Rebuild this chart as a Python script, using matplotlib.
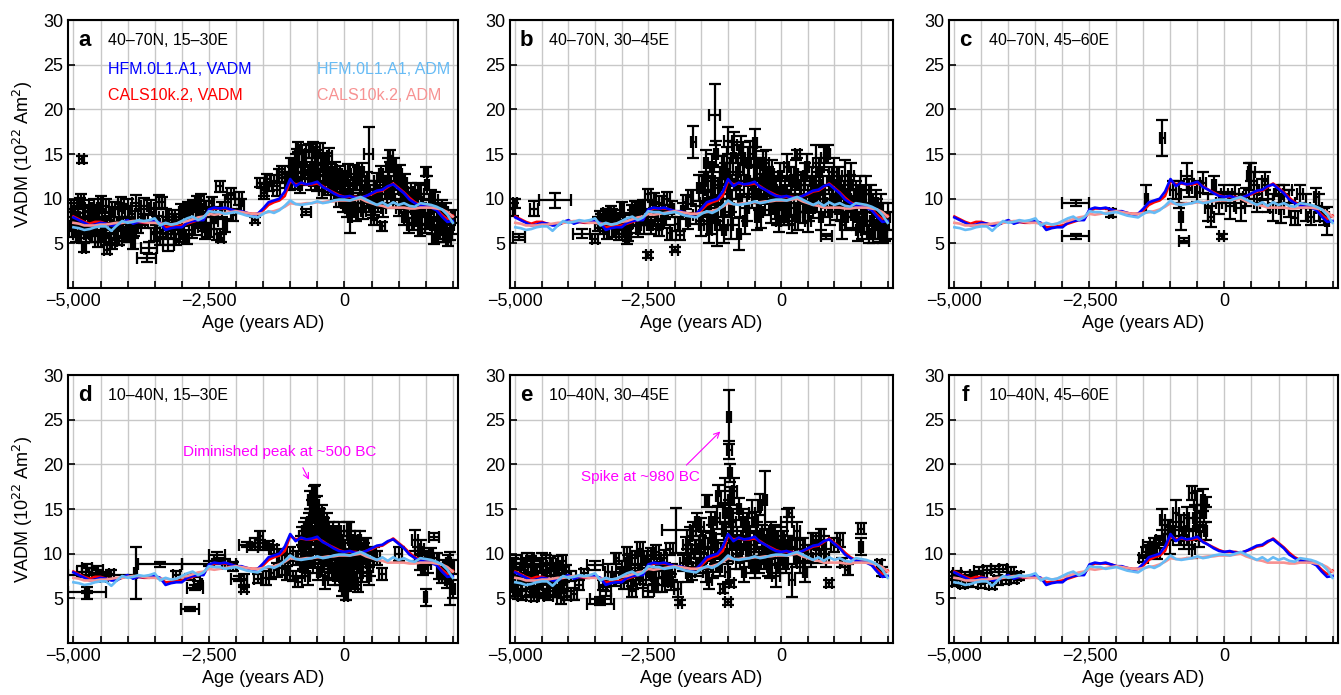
import matplotlib
matplotlib.use("Agg")
import matplotlib.pyplot as plt
import numpy as np

plt.rcParams['font.family'] = ['Liberation Sans', 'DejaVu Sans']

# model curves, every 100 years from -5000 to 2000 AD
years = list(range(-5000, 2001, 100))
hfm_vadm = [7.9, 7.6, 7.3, 7.0, 7.1, 7.3, 7.2, 7.0, 7.0, 7.4, 7.6, 7.2, 7.4, 7.4, 7.4, 7.5,
            7.3, 6.5, 6.7, 6.8, 6.8, 7.3, 7.5, 7.6, 7.6, 8.8, 9.0, 8.9, 9.0, 8.8, 8.6, 8.6,
            8.4, 8.2, 8.3, 8.9, 9.6, 9.8, 10.0, 10.8, 12.2, 11.4, 11.8, 11.6, 11.7, 11.9,
            11.3, 11.0, 10.6, 10.3, 10.2, 10.3, 10.1, 10.1, 10.3, 10.6, 10.9, 11.0, 11.4,
            11.6, 11.1, 10.6, 9.9, 9.5, 9.2, 9.1, 9.0, 8.7, 8.0, 7.4, 7.5]
cals_vadm = [8.0, 7.7, 7.4, 7.2, 7.4, 7.4, 7.2, 7.1, 7.1, 7.3, 7.5, 7.3, 7.4, 7.3, 7.3, 7.4,
             7.2, 6.8, 6.8, 6.9, 7.0, 7.2, 7.4, 7.6, 7.7, 8.6, 8.9, 8.9, 8.9, 8.8, 8.6, 8.5,
             8.4, 8.3, 8.3, 8.7, 9.3, 9.6, 9.8, 10.3, 12.0, 11.6, 11.7, 11.6, 11.6, 11.7,
             11.4, 11.0, 10.7, 10.4, 10.2, 10.2, 10.2, 10.1, 10.3, 10.5, 10.8, 10.9, 11.3,
             11.7, 11.2, 10.7, 10.1, 9.6, 9.3, 9.2, 9.1, 8.8, 8.2, 7.7, 8.1]
hfm_adm = [6.8, 6.7, 6.5, 6.6, 6.8, 6.9, 6.9, 6.4, 7.0, 7.5, 7.3, 7.4, 7.6, 7.5, 7.6, 7.8,
           7.0, 7.3, 7.1, 7.2, 7.5, 7.8, 8.0, 7.6, 7.9, 8.6, 8.5, 8.5, 8.3, 8.4, 8.5, 8.3,
           8.1, 8.0, 7.9, 8.3, 8.6, 8.4, 8.7, 9.2, 9.8, 9.4, 9.3, 9.4, 9.5, 9.7, 9.5, 9.6,
           9.8, 9.9, 9.9, 9.8, 10.0, 10.2, 9.9, 9.6, 9.3, 9.6, 9.2, 9.6, 9.3, 9.5, 9.2,
           9.1, 9.5, 9.4, 9.3, 9.1, 8.8, 8.2, 7.3]
cals_adm = [7.3, 7.2, 7.0, 7.0, 7.0, 7.1, 7.1, 7.2, 7.3, 7.3, 7.4, 7.5, 7.5, 7.4, 7.3, 7.3,
            7.2, 7.2, 7.1, 7.2, 7.4, 7.5, 7.7, 7.9, 8.0, 8.3, 8.2, 8.3, 8.4, 8.5, 8.6, 8.5,
            8.4, 8.3, 8.3, 8.4, 8.5, 8.6, 8.8, 9.1, 9.5, 9.4, 9.4, 9.5, 9.5, 9.6, 9.6, 9.7,
            9.7, 9.8, 9.8, 9.8, 9.9, 10.0, 9.7, 9.5, 9.3, 9.2, 9.0, 9.0, 9.0, 9.0, 8.9,
            8.9, 9.0, 9.0, 9.0, 8.9, 8.8, 8.5, 8.0]

# archaeomagnetic data: (age, VADM, age error, VADM error)
a_points = [(-5050, 8.5, 50, 1.0), (-5000, 7.2, 40, 0.8), (-4980, 9.2, 60, 0.7), (-4950, 6.0, 50, 0.8),
            (-4920, 8.0, 40, 1.2), (-4900, 5.6, 40, 0.5), (-4880, 9.5, 50, 0.6), (-4850, 14.4, 40, 0.4),
            (-4830, 7.0, 50, 0.9), (-4800, 4.5, 40, 0.5), (-4780, 8.5, 50, 0.8), (-4750, 6.3, 60, 0.7),
            (-4700, 7.8, 40, 0.8), (-4650, 5.8, 50, 0.6), (-4620, 9.0, 60, 1.0), (-4600, 6.8, 40, 0.7),
            (-4550, 5.2, 50, 0.6), (-4520, 8.0, 40, 0.9), (-4500, 9.5, 50, 0.8), (-4450, 6.5, 50, 0.7),
            (-4420, 7.5, 40, 1.0), (-4380, 4.3, 60, 0.5), (-4350, 5.6, 40, 0.6), (-4300, 8.2, 50, 0.9),
            (-4250, 6.2, 50, 0.8), (-4200, 7.3, 50, 0.7), (-4150, 5.3, 40, 0.5), (-4100, 8.6, 50, 0.8),
            (-4050, 6.0, 40, 0.7), (-4000, 9.0, 60, 1.0), (-3950, 7.2, 50, 0.8), (-3900, 5.0, 40, 0.6),
            (-3850, 9.5, 60, 0.9), (-3800, 6.8, 50, 0.6), (-3750, 8.0, 50, 0.9), (-3650, 3.4, 180, 0.5),
            (-3600, 4.5, 150, 0.7), (-3560, 9.0, 40, 0.8), (-3520, 6.0, 50, 0.7), (-3450, 7.2, 40, 0.9),
            (-3400, 5.5, 50, 0.7), (-3370, 9.6, 60, 0.6), (-3300, 8.0, 40, 0.8), (-3250, 4.8, 100, 0.7),
            (-3200, 6.4, 50, 0.8), (-3150, 7.6, 40, 0.7), (-3100, 5.4, 50, 0.6), (-3050, 7.0, 50, 0.9),
            (-3000, 6.2, 40, 0.7), (-2950, 8.4, 50, 0.8), (-2900, 5.5, 40, 0.6), (-2850, 7.8, 50, 0.8),
            (-2800, 9.2, 40, 0.7), (-2750, 6.8, 50, 0.9), (-2700, 8.5, 40, 0.8), (-2650, 9.8, 60, 0.7),
            (-2600, 7.2, 50, 0.8), (-2550, 8.8, 50, 0.9), (-2500, 6.5, 40, 0.8), (-2450, 9.5, 50, 0.7),
            (-2400, 7.5, 60, 0.9), (-2350, 6.0, 50, 0.6), (-2300, 11.4, 60, 0.6), (-2280, 5.6, 60, 0.5),
            (-2250, 8.8, 50, 0.8), (-2200, 7.0, 40, 0.7), (-2150, 9.6, 50, 0.8), (-2100, 10.6, 60, 0.6),
            (-2050, 8.2, 50, 0.7), (-1950, 10.0, 60, 0.7), (-1900, 9.2, 50, 0.8), (-1650, 7.6, 60, 0.3),
            (-1550, 11.8, 60, 0.5), (-1480, 10.6, 50, 0.6), (-1400, 11.4, 60, 0.5), (-1300, 12.0, 50, 0.6),
            (-1200, 12.6, 50, 0.7), (-1100, 12.4, 60, 0.6), (-1000, 11.6, 40, 0.6), (-950, 12.8, 50, 0.8),
            (-900, 14.0, 40, 1.0), (-850, 15.8, 50, 0.6), (-800, 13.0, 50, 0.8), (-750, 14.5, 40, 0.9),
            (-700, 8.5, 90, 0.3), (-680, 12.2, 50, 0.7), (-650, 15.3, 60, 0.8), (-600, 13.6, 40, 1.0),
            (-550, 14.8, 50, 1.0), (-500, 11.8, 40, 0.9), (-450, 15.5, 60, 0.7), (-400, 12.5, 50, 0.8),
            (-350, 14.2, 40, 0.9), (-300, 11.2, 50, 0.8), (-250, 13.0, 40, 1.0), (-200, 10.5, 50, 0.8),
            (-150, 12.0, 40, 0.9), (-100, 9.8, 50, 0.7), (-50, 11.0, 40, 0.9), (0, 12.3, 50, 0.8),
            (50, 9.0, 40, 1.0), (80, 10.5, 40, 0.9), (100, 8.0, 40, 1.8), (150, 11.5, 50, 0.9),
            (200, 9.5, 50, 0.8), (250, 12.5, 40, 1.0), (300, 10.0, 40, 1.0), (350, 8.6, 50, 0.9),
            (400, 11.0, 40, 1.0), (450, 15.0, 80, 3.0), (500, 9.2, 40, 1.0), (550, 7.6, 60, 0.6),
            (600, 12.0, 50, 0.9), (650, 10.2, 40, 1.0), (700, 6.9, 50, 0.5), (750, 11.5, 40, 1.0),
            (800, 13.5, 40, 1.0), (850, 14.8, 50, 0.7), (900, 10.0, 40, 1.0), (950, 12.5, 40, 1.0),
            (1000, 9.0, 50, 0.9), (1050, 11.0, 40, 1.0), (1100, 8.0, 40, 0.9), (1150, 10.2, 50, 1.0),
            (1200, 7.0, 40, 0.8), (1250, 9.5, 40, 1.0), (1300, 8.2, 40, 0.9), (1350, 11.0, 50, 0.8),
            (1400, 6.5, 40, 0.7), (1450, 9.0, 40, 1.0), (1500, 13.0, 40, 0.5), (1550, 7.5, 40, 0.9),
            (1600, 10.0, 40, 1.0), (1650, 5.5, 40, 0.6), (1700, 8.5, 40, 1.0), (1750, 6.8, 40, 0.8),
            (1800, 9.0, 40, 0.9), (1850, 5.8, 40, 0.7), (1900, 7.5, 40, 0.9), (1950, 6.2, 40, 0.8),
            (2000, 8.0, 40, 0.7)]
a_more = [(-5030, 6.5, 60, 0.8), (-4970, 8.0, 50, 0.9), (-4900, 7.4, 60, 1.0), (-4860, 9.8, 50, 0.7),
          (-4760, 6.0, 50, 0.8), (-4720, 9.0, 60, 0.9), (-4680, 7.0, 50, 1.0), (-4580, 8.5, 50, 0.8),
          (-4480, 5.8, 50, 0.7), (-4400, 9.2, 60, 0.8), (-4330, 7.0, 50, 0.9), (-4280, 5.0, 40, 0.6),
          (-4230, 8.8, 50, 0.8), (-4180, 6.5, 50, 0.9), (-4120, 9.5, 60, 0.7), (-4080, 7.2, 50, 0.8),
          (-3980, 6.0, 50, 0.8), (-3920, 8.3, 60, 0.9), (-3880, 6.5, 40, 0.7), (-3700, 9.2, 60, 0.9),
          (-3680, 7.5, 50, 0.8), (-3480, 8.0, 50, 0.9), (-3420, 9.6, 60, 0.8), (-3350, 6.5, 50, 0.8),
          (-3280, 7.0, 40, 0.9), (-3180, 8.0, 50, 0.7), (-3120, 6.8, 50, 0.8), (-3020, 8.5, 40, 0.9),
          (-2980, 5.8, 50, 0.7), (-2880, 8.8, 50, 0.8), (-2820, 6.5, 50, 0.9), (-2720, 9.5, 40, 0.8),
          (-2680, 7.6, 50, 0.9), (-2620, 8.0, 40, 0.8), (-2580, 6.3, 50, 0.8), (-2420, 8.2, 50, 0.9),
          (-1480, 11.0, 50, 0.7), (-1420, 12.2, 40, 0.6), (-1250, 11.0, 60, 0.7), (-1150, 13.0, 50, 0.7),
          (-1050, 12.0, 40, 0.8), (-980, 13.8, 50, 0.8), (-920, 12.0, 50, 0.9), (-870, 14.8, 40, 0.8),
          (-820, 11.5, 40, 0.9), (-780, 15.0, 60, 1.0), (-720, 13.2, 50, 0.9), (-620, 12.0, 40, 1.0),
          (-580, 15.8, 50, 0.6), (-520, 13.0, 40, 1.0), (-480, 14.0, 50, 1.0), (-420, 11.0, 40, 0.9),
          (-380, 13.5, 50, 1.0), (-330, 12.5, 40, 1.0), (-280, 14.8, 50, 0.9), (-230, 11.8, 40, 1.0),
          (-180, 13.2, 40, 0.9), (-130, 10.8, 40, 1.0), (-80, 12.8, 40, 0.9), (-30, 9.5, 40, 1.0),
          (20, 11.0, 40, 1.0), (60, 13.0, 40, 0.9), (120, 10.0, 40, 1.0), (170, 12.8, 40, 1.0),
          (220, 8.5, 40, 1.0), (280, 11.5, 40, 0.9), (320, 13.0, 40, 1.0), (370, 9.5, 40, 1.0),
          (420, 12.0, 40, 1.0), (480, 10.5, 40, 1.0), (530, 8.8, 40, 1.0), (580, 11.0, 40, 1.0),
          (620, 9.5, 40, 1.0), (680, 12.8, 40, 0.9), (720, 9.0, 40, 1.0), (780, 10.5, 40, 1.0),
          (820, 12.0, 40, 1.0), (880, 11.0, 40, 1.0), (920, 13.8, 40, 0.8), (980, 11.5, 40, 1.0),
          (1020, 12.8, 40, 1.0), (1080, 9.8, 40, 1.0), (1120, 11.8, 40, 1.0), (1180, 8.8, 40, 1.0),
          (1220, 10.8, 40, 1.0), (1280, 7.5, 40, 1.0), (1320, 9.8, 40, 1.0), (1380, 8.0, 40, 1.0),
          (1420, 10.5, 40, 1.0), (1480, 7.2, 40, 1.0), (1520, 11.5, 40, 1.0), (1580, 8.8, 40, 1.0),
          (1620, 7.0, 40, 1.0), (1680, 9.8, 40, 1.0), (1720, 6.0, 40, 0.8), (1780, 8.0, 40, 1.0),
          (1820, 6.5, 40, 1.0), (1880, 8.5, 40, 1.0), (1920, 5.5, 40, 0.8), (1980, 7.0, 40, 1.0)]

b_points = [(-5050, 8.8, 50, 0.7), (-5000, 9.5, 40, 0.5), (-4930, 5.7, 120, 0.3), (-4650, 8.9, 80, 0.8),
            (-4250, 9.8, 300, 0.8), (-3750, 6.1, 160, 0.5), (-3500, 5.5, 60, 0.5), (-3450, 7.2, 50, 0.8),
            (-3400, 8.0, 40, 0.6), (-3350, 6.8, 50, 0.7), (-3300, 8.4, 60, 0.5), (-3250, 7.5, 50, 0.7),
            (-3200, 8.6, 50, 0.6), (-3150, 6.5, 40, 0.8), (-3100, 7.8, 50, 0.9), (-3050, 6.0, 50, 0.6),
            (-3000, 8.9, 40, 0.7), (-2950, 6.5, 50, 0.8), (-2900, 5.5, 40, 0.6), (-2850, 7.2, 50, 1.0),
            (-2800, 8.5, 40, 0.8), (-2750, 9.0, 50, 0.7), (-2700, 6.6, 40, 0.9), (-2650, 7.8, 50, 0.8),
            (-2600, 9.2, 40, 0.7), (-2550, 8.0, 50, 0.9), (-2500, 10.5, 60, 0.6), (-2500, 3.7, 50, 0.3),
            (-2450, 7.0, 40, 0.9), (-2400, 9.8, 50, 0.8), (-2350, 8.5, 40, 0.9), (-2300, 6.5, 50, 0.7),
            (-2250, 9.5, 50, 0.8), (-2200, 7.6, 40, 0.9), (-2150, 10.0, 50, 0.7), (-2100, 6.2, 50, 0.8),
            (-2050, 8.8, 40, 0.9), (-2000, 4.3, 60, 0.3), (-1950, 7.2, 50, 0.8), (-1900, 5.9, 80, 0.5),
            (-1850, 8.6, 40, 0.9), (-1800, 9.6, 50, 0.8), (-1750, 7.5, 40, 0.9), (-1700, 10.2, 50, 0.8),
            (-1650, 16.3, 40, 1.8), (-1600, 8.2, 50, 1.0), (-1550, 11.2, 40, 1.5), (-1500, 7.0, 50, 1.2),
            (-1450, 12.0, 40, 1.0), (-1400, 9.0, 40, 1.8), (-1350, 6.5, 50, 1.5), (-1300, 13.5, 40, 1.5),
            (-1250, 19.4, 100, 3.4), (-1250, 9.8, 40, 2.5), (-1200, 7.0, 50, 2.3), (-1150, 11.5, 40, 1.5),
            (-1100, 8.5, 40, 2.0), (-1050, 12.8, 50, 1.2), (-1000, 16.5, 80, 1.5), (-980, 10.2, 40, 2.0),
            (-950, 7.0, 50, 1.5), (-900, 14.5, 40, 1.8), (-850, 11.5, 40, 1.5), (-800, 6.0, 40, 1.8),
            (-750, 15.5, 40, 1.5), (-700, 12.0, 50, 1.8), (-650, 9.0, 40, 1.5), (-600, 14.0, 40, 1.8),
            (-550, 10.5, 50, 1.5), (-500, 16.2, 40, 1.6), (-450, 8.0, 40, 1.5), (-400, 12.8, 50, 1.8),
            (-350, 13.8, 40, 1.5), (-300, 10.0, 40, 1.8), (-250, 12.0, 50, 1.5), (-200, 8.8, 40, 1.5),
            (-150, 11.5, 50, 1.5), (-100, 9.5, 40, 1.8), (-50, 7.5, 50, 1.2), (0, 10.8, 50, 1.5),
            (50, 8.0, 40, 1.0), (100, 13.5, 50, 1.5), (150, 9.5, 40, 1.5), (200, 7.2, 50, 1.0),
            (250, 11.5, 40, 1.2), (300, 15.0, 50, 0.5), (350, 10.0, 40, 1.5), (400, 8.5, 50, 1.2),
            (450, 12.5, 40, 1.5), (500, 7.5, 50, 1.2), (550, 10.8, 40, 1.5), (600, 9.0, 40, 1.2),
            (650, 14.0, 50, 2.0), (700, 11.5, 40, 1.5), (750, 8.0, 40, 1.5), (800, 14.5, 50, 1.3),
            (850, 5.8, 100, 0.3), (900, 12.0, 40, 1.5), (950, 10.0, 40, 1.5), (1000, 13.0, 40, 1.5),
            (1050, 8.8, 40, 1.2), (1100, 11.0, 50, 1.5), (1150, 7.0, 40, 1.5), (1200, 12.5, 60, 1.8),
            (1250, 9.5, 40, 1.5), (1300, 11.5, 40, 1.2), (1350, 8.2, 40, 1.5), (1400, 10.5, 40, 1.5),
            (1450, 6.5, 40, 1.2), (1500, 9.8, 40, 1.5), (1550, 7.8, 40, 1.5), (1600, 11.0, 40, 1.5),
            (1650, 6.0, 40, 1.0), (1700, 9.0, 40, 1.5), (1750, 7.0, 40, 1.5), (1800, 8.5, 40, 1.5),
            (1850, 6.2, 40, 1.0), (1900, 8.0, 40, 1.5), (1950, 6.8, 40, 1.5), (2000, 8.0, 40, 1.5)]
b_more = [(-3380, 7.5, 50, 0.8), (-3280, 6.2, 50, 0.7), (-3180, 8.0, 50, 0.8), (-3080, 7.0, 50, 0.9),
          (-2980, 7.6, 50, 0.8), (-2880, 6.0, 50, 0.7), (-2780, 7.8, 50, 0.9), (-2680, 8.8, 50, 0.8),
          (-2580, 7.0, 50, 0.9), (-2420, 8.8, 50, 0.8), (-2320, 7.5, 50, 0.9), (-2180, 8.5, 50, 0.8),
          (-1480, 9.5, 50, 2.0), (-1420, 14.0, 40, 1.5), (-1380, 11.0, 50, 2.0), (-1320, 8.0, 40, 2.0),
          (-1280, 12.0, 40, 1.8), (-1220, 15.0, 40, 1.5), (-1180, 9.5, 50, 2.0), (-1120, 13.0, 40, 1.8),
          (-1080, 6.5, 40, 1.5), (-1020, 14.0, 50, 1.8), (-960, 12.0, 40, 2.0), (-920, 9.0, 40, 2.0),
          (-880, 16.0, 50, 1.5), (-820, 13.0, 40, 2.0), (-780, 10.0, 40, 2.0), (-720, 14.5, 40, 1.8),
          (-680, 7.5, 40, 1.5), (-620, 12.0, 40, 1.8), (-580, 15.0, 40, 1.5), (-520, 11.5, 40, 2.0),
          (-480, 14.0, 40, 1.8), (-420, 10.5, 40, 1.8), (-380, 8.5, 40, 1.8), (-320, 12.0, 40, 2.0),
          (-280, 14.0, 40, 1.5), (-220, 10.5, 40, 1.8), (-180, 12.8, 40, 1.5), (-120, 11.0, 40, 1.5),
          (-80, 8.5, 40, 1.5), (-20, 12.5, 40, 1.5), (20, 9.5, 40, 1.5), (70, 11.0, 40, 1.5),
          (120, 8.5, 40, 1.5), (180, 12.0, 40, 1.5), (230, 9.0, 40, 1.5), (280, 12.8, 40, 1.5),
          (320, 8.0, 40, 1.5), (380, 11.5, 40, 1.5), (420, 10.0, 40, 1.5), (480, 13.5, 40, 1.5),
          (520, 9.0, 40, 1.5), (580, 12.0, 40, 1.5), (620, 11.0, 40, 1.5), (680, 10.0, 40, 1.5),
          (720, 13.0, 40, 1.5), (780, 11.0, 40, 1.5), (820, 9.5, 40, 1.5), (880, 15.0, 40, 1.0),
          (920, 8.5, 40, 1.5), (980, 11.5, 40, 1.5), (1020, 10.0, 40, 1.5), (1080, 12.0, 40, 1.5),
          (1120, 9.0, 40, 1.5), (1180, 10.5, 40, 1.5), (1220, 8.0, 40, 1.5), (1280, 10.0, 40, 1.5),
          (1320, 12.5, 40, 1.5), (1380, 9.5, 40, 1.5), (1420, 8.0, 40, 1.5), (1480, 11.0, 40, 1.5),
          (1520, 7.0, 40, 1.5), (1580, 9.0, 40, 1.5), (1620, 7.5, 40, 1.5), (1680, 10.0, 40, 1.5),
          (1720, 6.0, 40, 1.0), (1780, 9.5, 40, 1.5), (1820, 7.0, 40, 1.5), (1880, 9.0, 40, 1.5),
          (1920, 6.0, 40, 1.0), (1980, 7.0, 40, 1.5)]

c_points = [(-2750, 9.5, 250, 0.3), (-2750, 5.8, 250, 0.3), (-2100, 8.4, 40, 0.5), (-1450, 10.0, 30, 1.5),
            (-1150, 16.8, 40, 2.0), (-950, 11.0, 60, 1.0), (-850, 10.5, 40, 1.5), (-800, 8.0, 40, 1.5),
            (-750, 5.3, 100, 0.3), (-700, 12.5, 100, 1.5), (-650, 11.2, 50, 1.0), (-500, 10.8, 50, 1.2),
            (-400, 11.8, 60, 1.2), (-300, 9.0, 60, 1.5), (-250, 8.0, 60, 1.2), (-200, 11.5, 40, 1.0),
            (-100, 9.5, 50, 1.2), (-50, 5.8, 50, 0.3), (0, 10.5, 60, 1.0), (100, 9.2, 80, 1.5),
            (200, 10.5, 60, 1.0), (300, 9.0, 80, 1.5), (400, 10.2, 60, 1.0), (450, 12.5, 40, 1.5),
            (500, 13.0, 60, 1.0), (550, 11.5, 60, 1.5), (600, 9.5, 60, 1.0), (700, 11.0, 60, 1.2),
            (750, 12.0, 50, 1.0), (800, 10.0, 100, 1.5), (900, 9.0, 60, 1.5), (1000, 10.5, 80, 1.0),
            (1050, 8.8, 50, 1.5), (1100, 11.0, 150, 0.5), (1200, 9.5, 100, 1.5), (1300, 7.8, 60, 0.8),
            (1400, 10.5, 60, 1.0), (1500, 9.0, 80, 1.5), (1600, 8.0, 60, 1.0), (1700, 10.2, 50, 1.0),
            (1750, 9.0, 50, 1.5), (1850, 8.0, 80, 1.0), (1900, 7.5, 40, 1.6)]

d_points = [(-4750, 5.7, 350, 0.1), (-4750, 5.6, 30, 0.7), (-4470, 7.6, 630, 0.1), (-4850, 8.0, 80, 0.6),
            (-4750, 8.4, 100, 0.5), (-4650, 7.8, 60, 0.6), (-4550, 8.2, 100, 0.4), (-4450, 7.4, 60, 0.5),
            (-4300, 7.7, 50, 0.5), (-3850, 7.8, 30, 2.9), (-3400, 8.8, 400, 0.3), (-3100, 7.6, 60, 0.5),
            (-2500, 8.9, 500, 0.3), (-2850, 7.4, 180, 0.3), (-2750, 6.2, 150, 0.3), (-2850, 3.8, 170, 0.2),
            (-2700, 6.6, 80, 0.3), (-2350, 9.8, 150, 0.4), (-2300, 9.2, 100, 0.3), (-2200, 8.9, 60, 0.5),
            (-2050, 8.6, 60, 0.5), (-1950, 7.2, 150, 0.3), (-1850, 7.0, 60, 0.7), (-1850, 6.1, 60, 0.4),
            (-1800, 11.0, 150, 0.3), (-1650, 11.2, 100, 0.5), (-1550, 12.0, 50, 0.5), (-1500, 10.8, 100, 0.4),
            (-1400, 11.0, 80, 0.4), (-1450, 7.3, 60, 0.8), (-1350, 7.8, 50, 0.6), (-1300, 10.5, 60, 0.5),
            (-1200, 9.2, 50, 0.8), (-1100, 8.3, 60, 0.7), (-1000, 10.0, 50, 0.8), (-950, 7.5, 60, 0.6),
            (-900, 9.5, 50, 0.8), (-850, 6.8, 60, 0.5), (-800, 11.0, 40, 1.0), (-780, 8.5, 40, 1.0),
            (-750, 12.5, 40, 1.0), (-700, 10.0, 40, 1.2), (-680, 7.5, 40, 1.0), (-650, 13.5, 40, 1.0),
            (-620, 11.5, 30, 1.0), (-600, 15.0, 30, 1.0), (-580, 9.0, 40, 1.2), (-560, 16.8, 40, 0.8),
            (-550, 12.5, 30, 1.0), (-530, 14.0, 30, 1.0), (-510, 10.5, 30, 1.2), (-500, 15.5, 40, 1.0),
            (-480, 8.0, 30, 1.0), (-460, 13.0, 30, 1.2), (-440, 11.0, 30, 1.2), (-420, 14.5, 40, 1.0),
            (-400, 9.5, 30, 1.2), (-380, 12.0, 30, 1.2), (-350, 7.0, 40, 1.0), (-330, 13.5, 30, 1.0),
            (-300, 10.5, 40, 1.2), (-280, 8.5, 30, 1.2), (-250, 12.0, 40, 1.0), (-220, 9.0, 40, 1.2),
            (-200, 11.0, 40, 1.2), (-170, 7.5, 40, 1.0), (-150, 10.0, 40, 1.2), (-120, 8.5, 40, 1.2),
            (-100, 12.5, 40, 1.0), (-80, 9.5, 40, 1.2), (-50, 6.5, 40, 1.2), (-20, 11.0, 40, 1.0),
            (0, 8.0, 40, 1.2), (30, 5.3, 40, 0.5), (50, 12.5, 50, 1.0), (80, 9.0, 40, 1.2),
            (100, 11.5, 40, 1.0), (130, 7.5, 40, 1.2), (150, 10.0, 40, 1.2), (200, 11.5, 50, 1.0),
            (230, 8.5, 50, 1.2), (250, 6.5, 60, 0.8), (300, 10.5, 40, 1.0), (350, 9.0, 40, 1.2),
            (400, 11.0, 40, 0.8), (450, 7.5, 40, 1.0), (600, 9.5, 60, 0.8), (700, 7.7, 60, 0.7),
            (1000, 10.0, 60, 0.8), (1300, 11.5, 50, 1.2), (1350, 10.0, 40, 0.8), (1400, 9.0, 50, 0.8),
            (1450, 8.3, 40, 0.7), (1500, 5.1, 30, 1.0), (1650, 11.9, 90, 0.4), (1600, 9.8, 40, 0.8),
            (1700, 9.5, 50, 0.6), (1750, 8.0, 40, 0.8), (1800, 7.5, 50, 0.8), (1850, 8.5, 40, 0.8),
            (1900, 7.0, 40, 0.8), (1950, 7.2, 40, 3.0), (2000, 6.0, 40, 1.0), (1980, 8.5, 40, 0.8)]
d_more = [(-790, 12.0, 40, 1.0), (-770, 9.5, 30, 1.2), (-730, 11.5, 30, 1.0), (-710, 13.0, 30, 1.0),
          (-690, 9.0, 30, 1.2), (-660, 12.0, 30, 1.0), (-640, 16.0, 30, 1.0), (-630, 10.0, 30, 1.2),
          (-610, 14.0, 30, 1.0), (-590, 12.5, 30, 1.0), (-570, 15.5, 30, 1.0), (-540, 17.0, 30, 0.7),
          (-520, 11.5, 30, 1.2), (-490, 13.5, 30, 1.0), (-470, 10.0, 30, 1.2), (-450, 14.0, 30, 1.0),
          (-430, 12.5, 30, 1.0), (-410, 8.5, 30, 1.0), (-390, 11.0, 30, 1.2), (-370, 13.0, 30, 1.0),
          (-340, 9.8, 30, 1.2), (-320, 11.5, 30, 1.0), (-290, 12.5, 30, 1.0), (-270, 9.5, 30, 1.2),
          (-240, 10.5, 30, 1.2), (-210, 12.5, 30, 1.0), (-190, 8.0, 30, 1.0), (-160, 11.5, 30, 1.2),
          (-130, 9.0, 30, 1.2), (-110, 10.5, 30, 1.2), (-90, 7.5, 30, 1.0), (-60, 11.5, 30, 1.0),
          (-40, 9.0, 30, 1.2), (-10, 7.0, 30, 1.2), (10, 10.0, 30, 1.2), (40, 9.0, 30, 1.2),
          (60, 7.0, 30, 1.0), (90, 12.8, 30, 0.8), (110, 8.5, 30, 1.2), (140, 11.0, 30, 1.0),
          (170, 9.5, 30, 1.2), (190, 7.0, 30, 1.0), (220, 10.5, 30, 1.2), (260, 9.0, 30, 1.2),
          (280, 11.5, 30, 1.0), (320, 8.0, 30, 1.2), (370, 10.0, 30, 1.2), (420, 9.0, 30, 1.0),
          (480, 8.5, 40, 1.0), (550, 10.0, 40, 0.8), (1420, 10.5, 40, 1.0), (1480, 9.5, 40, 0.8),
          (1550, 8.8, 40, 1.0), (1880, 8.0, 40, 0.8), (1920, 9.0, 40, 0.8), (-1700, 10.8, 100, 0.4),
          (-1600, 7.2, 60, 0.5), (-1250, 8.2, 50, 0.8), (-1150, 9.8, 50, 0.7), (-1050, 7.8, 50, 0.8)]

e_points = [(-5050, 8.5, 50, 1.0), (-5000, 6.5, 60, 0.8), (-4980, 9.0, 80, 0.8), (-4950, 5.5, 50, 0.6),
            (-4900, 7.5, 100, 1.0), (-4850, 8.8, 150, 0.6), (-4800, 6.0, 80, 0.8), (-4750, 7.0, 60, 1.0),
            (-4700, 9.2, 200, 0.5), (-4650, 5.2, 60, 0.5), (-4600, 8.0, 100, 0.8), (-4550, 6.5, 50, 0.9),
            (-4500, 9.5, 150, 0.6), (-4450, 5.5, 100, 0.5), (-4400, 7.8, 80, 0.9), (-4350, 8.8, 120, 0.7),
            (-4300, 6.2, 60, 0.8), (-4250, 7.0, 200, 0.6), (-4200, 9.0, 100, 0.7), (-4150, 5.0, 60, 0.6),
            (-4100, 6.8, 80, 0.8), (-4050, 8.0, 60, 0.7), (-3950, 7.5, 100, 0.6), (-3900, 5.5, 60, 0.7),
            (-3800, 6.5, 80, 0.6), (-3700, 7.8, 60, 0.5), (-3500, 8.7, 150, 0.5), (-3400, 4.4, 250, 0.2),
            (-3400, 4.9, 200, 0.2), (-3350, 6.5, 80, 0.6), (-3300, 5.8, 100, 0.5), (-3250, 8.0, 60, 0.8),
            (-3150, 7.2, 50, 0.8), (-3100, 9.5, 50, 0.6), (-3000, 8.5, 100, 0.7), (-2950, 6.8, 60, 0.8),
            (-2900, 10.0, 60, 0.8), (-2850, 7.8, 50, 0.9), (-2800, 5.8, 60, 0.6), (-2750, 9.5, 60, 0.8),
            (-2700, 8.0, 50, 0.9), (-2650, 10.5, 60, 0.8), (-2600, 7.0, 50, 0.8), (-2550, 8.8, 60, 0.9),
            (-2500, 5.8, 100, 0.7), (-2450, 9.8, 60, 0.8), (-2400, 7.5, 50, 0.9), (-2350, 10.2, 60, 0.8),
            (-2300, 8.2, 50, 0.9), (-2250, 6.5, 60, 0.8), (-2200, 9.5, 60, 0.9), (-2150, 7.2, 50, 0.8),
            (-2100, 10.5, 60, 0.7), (-2050, 8.0, 50, 0.9), (-1980, 12.6, 270, 2.5), (-1950, 6.0, 60, 0.8),
            (-1900, 4.5, 40, 0.3), (-1850, 9.0, 50, 0.9), (-1800, 11.0, 50, 0.9), (-1750, 7.8, 50, 1.0),
            (-1700, 10.0, 60, 1.0), (-1650, 12.5, 50, 1.0), (-1600, 8.5, 50, 1.0), (-1550, 11.0, 50, 1.0),
            (-1500, 13.0, 40, 1.0), (-1450, 9.5, 50, 1.2), (-1400, 15.9, 40, 0.7), (-1350, 7.0, 50, 1.0),
            (-1300, 12.0, 40, 1.2), (-1250, 10.0, 50, 1.2), (-1200, 14.0, 40, 1.2), (-1150, 8.5, 40, 1.0),
            (-1100, 6.1, 50, 0.5), (-1080, 12.5, 40, 1.0), (-1050, 17.0, 120, 1.5), (-1020, 10.0, 40, 1.2),
            (-1000, 4.6, 50, 0.3), (-990, 14.5, 40, 1.5), (-980, 25.3, 40, 3.0), (-975, 21.6, 40, 1.0),
            (-970, 19.0, 40, 1.0), (-960, 16.0, 40, 1.5), (-950, 12.0, 40, 1.5), (-940, 6.7, 50, 0.4),
            (-900, 13.5, 50, 1.5), (-850, 9.5, 50, 1.2), (-800, 15.0, 40, 1.2), (-750, 11.0, 50, 1.5),
            (-700, 8.0, 40, 1.2), (-650, 13.0, 50, 1.5), (-600, 10.0, 40, 1.5), (-550, 14.5, 50, 1.5),
            (-500, 8.5, 40, 1.2), (-450, 12.0, 50, 1.5), (-400, 15.5, 40, 1.2), (-350, 10.0, 60, 1.2),
            (-300, 16.0, 40, 3.2), (-250, 9.0, 50, 1.5), (-200, 12.5, 40, 1.0), (-150, 11.0, 50, 1.2),
            (-100, 7.5, 80, 1.2), (-50, 10.5, 40, 1.0), (0, 12.0, 60, 1.0), (50, 9.5, 40, 1.2),
            (100, 13.5, 100, 1.5), (150, 14.6, 50, 0.5), (200, 7.0, 60, 1.8), (250, 10.8, 50, 1.0),
            (300, 12.5, 60, 1.0), (350, 9.0, 50, 1.2), (400, 11.0, 40, 0.8), (500, 10.0, 50, 1.0),
            (600, 11.5, 50, 0.8), (700, 10.0, 40, 1.0), (750, 12.0, 50, 0.8), (900, 6.7, 60, 0.4),
            (1000, 11.0, 60, 0.8), (1100, 11.5, 60, 0.8), (1150, 9.0, 50, 0.5), (1250, 8.2, 50, 0.6),
            (1500, 12.8, 50, 0.6), (1500, 10.8, 40, 1.0), (1850, 8.8, 50, 0.5), (1900, 8.0, 50, 0.5)]
e_more = [(-5020, 7.5, 100, 0.8), (-4970, 6.0, 80, 0.7), (-4920, 8.2, 150, 0.8), (-4870, 5.3, 80, 0.5),
          (-4820, 7.8, 200, 0.8), (-4780, 9.5, 100, 0.6), (-4720, 6.2, 80, 0.8), (-4680, 8.5, 150, 0.9),
          (-4620, 5.8, 60, 0.6), (-4580, 7.2, 100, 0.9), (-4520, 8.6, 120, 0.8), (-4480, 6.0, 80, 0.7),
          (-4420, 9.0, 100, 0.8), (-4380, 5.3, 80, 0.5), (-4320, 7.5, 100, 0.9), (-4280, 8.2, 150, 0.7),
          (-4220, 5.8, 60, 0.7), (-4180, 7.8, 100, 0.8), (-4120, 9.2, 80, 0.7), (-4080, 6.0, 60, 0.8),
          (-4020, 5.3, 60, 0.5), (-2980, 7.5, 50, 0.8), (-2880, 9.0, 50, 0.9), (-2780, 6.8, 50, 0.8),
          (-2680, 7.5, 50, 0.9), (-2580, 9.5, 50, 0.8), (-2480, 8.0, 50, 0.9), (-2380, 6.5, 50, 0.8),
          (-2280, 9.0, 50, 0.9), (-2180, 8.2, 50, 0.8), (-2080, 6.8, 50, 0.9), (-1780, 9.5, 50, 1.0),
          (-1720, 12.0, 50, 1.0), (-1680, 8.0, 50, 1.0), (-1620, 10.5, 50, 1.0), (-1580, 13.5, 40, 1.0),
          (-1520, 9.0, 50, 1.2), (-1480, 11.5, 40, 1.0), (-1420, 8.0, 50, 1.2), (-1380, 10.5, 50, 1.2),
          (-1320, 13.5, 40, 1.2), (-1280, 8.5, 50, 1.2), (-1220, 11.0, 40, 1.2), (-1180, 16.5, 40, 1.2),
          (-1130, 10.0, 40, 1.2), (-1060, 14.5, 40, 1.2), (-1010, 8.0, 40, 1.2), (-930, 11.0, 40, 1.5),
          (-880, 17.0, 50, 1.5), (-830, 11.5, 40, 1.5), (-780, 9.5, 40, 1.2), (-720, 13.5, 40, 1.5),
          (-670, 10.5, 40, 1.2), (-620, 12.5, 40, 1.5), (-570, 9.0, 40, 1.2), (-520, 11.0, 40, 1.5),
          (-470, 13.5, 40, 1.2), (-420, 9.0, 40, 1.2), (-370, 12.0, 40, 1.2), (-320, 9.5, 40, 1.2),
          (-270, 11.5, 40, 1.2), (-220, 8.5, 40, 1.2), (-170, 10.0, 40, 1.2), (-120, 12.0, 40, 1.2),
          (-70, 9.0, 40, 1.2), (-20, 10.5, 40, 1.0), (30, 11.5, 40, 1.0), (80, 9.0, 40, 1.2),
          (130, 11.0, 40, 1.0), (280, 9.5, 40, 1.0), (450, 8.0, 40, 1.2), (550, 9.5, 40, 1.0),
          (650, 11.0, 40, 1.0), (800, 11.0, 40, 1.0), (850, 9.5, 40, 1.0)]

f_points = [(-5050, 7.5, 60, 0.4), (-5000, 6.8, 50, 0.4), (-4950, 7.8, 80, 0.3), (-4900, 7.0, 60, 0.5),
            (-4850, 6.6, 50, 0.4), (-4800, 7.6, 80, 0.4), (-4750, 7.2, 60, 0.3), (-4700, 6.8, 50, 0.5),
            (-4650, 7.5, 60, 0.4), (-4550, 8.1, 80, 0.4), (-4500, 6.6, 60, 0.4), (-4450, 7.3, 50, 0.5),
            (-4400, 8.2, 80, 0.4), (-4300, 6.5, 60, 0.4), (-4250, 8.3, 80, 0.3), (-4200, 7.0, 60, 0.5),
            (-4100, 8.3, 80, 0.4), (-4050, 7.0, 60, 0.4), (-3950, 8.0, 60, 0.5), (-3900, 7.2, 50, 0.5),
            (-3800, 7.5, 40, 0.5), (-1500, 9.5, 80, 0.4), (-1450, 10.2, 80, 0.6), (-1400, 11.0, 100, 0.3),
            (-1350, 10.5, 60, 0.5), (-1300, 11.2, 80, 0.5), (-1250, 10.0, 60, 0.6), (-1200, 11.5, 60, 0.5),
            (-1150, 13.8, 40, 1.2), (-1100, 12.2, 60, 1.0), (-1050, 13.0, 50, 0.8), (-1000, 11.5, 40, 1.5),
            (-950, 12.5, 40, 1.0), (-900, 14.5, 50, 1.5), (-850, 12.0, 60, 1.0), (-800, 13.5, 50, 0.8),
            (-750, 11.5, 60, 1.0), (-700, 14.0, 50, 1.2), (-650, 12.5, 60, 1.5), (-600, 16.8, 60, 0.8),
            (-600, 10.5, 50, 1.0), (-550, 14.0, 40, 1.5), (-500, 15.5, 60, 1.5), (-480, 12.0, 50, 1.2),
            (-450, 13.0, 50, 1.5), (-400, 16.0, 40, 1.2), (-380, 14.5, 40, 1.0), (-350, 15.8, 30, 0.6),
            (-350, 12.5, 30, 1.0)]

panel_letters = ['a', 'b', 'c', 'd', 'e', 'f']
panel_regions = ['40–70N, 15–30E', '40–70N, 30–45E', '40–70N, 45–60E',
                 '10–40N, 15–30E', '10–40N, 30–45E', '10–40N, 45–60E']
panel_data = [a_points + a_more, b_points + b_more, c_points,
              d_points + d_more, e_points + e_more, f_points]

fig = plt.figure(figsize=(13.41, 6.95), dpi=100)

lefts = [0.0507, 0.3803, 0.7077]
widths = [0.291, 0.2856, 0.290]
bottoms = [0.5856, 0.0748]
h = 0.3856

axes = []
for r in range(2):
    for c in range(3):
        ax = fig.add_axes([lefts[c], bottoms[r], widths[c], h])
        axes.append(ax)

for i, ax in enumerate(axes):
    pts = np.array(panel_data[i])
    ax.errorbar(pts[:, 0], pts[:, 1], xerr=pts[:, 2], yerr=pts[:, 3], fmt='none',
                ecolor='black', elinewidth=1.6, capsize=4, capthick=1.6, zorder=2)
    ax.plot(years, cals_vadm, color='#ff0000', lw=1.9, zorder=3)
    ax.plot(years, hfm_vadm, color='#0000ff', lw=1.9, zorder=4)
    ax.plot(years, cals_adm, color='#f79292', lw=1.9, zorder=5)
    ax.plot(years, hfm_adm, color='#66bbf5', lw=1.9, zorder=6)

    ax.set_xlim(-5100, 2100)
    ax.set_ylim(0, 30)
    xt = list(range(-5000, 2001, 500))
    ax.set_xticks(xt)
    ax.set_xticklabels(['−5,000' if t == -5000 else '−2,500' if t == -2500 else '0' if t == 0 else ''
                        for t in xt])
    ax.set_yticks([0, 5, 10, 15, 20, 25, 30])
    ax.set_yticklabels(['', '5', '10', '15', '20', '25', '30'])
    ax.tick_params(direction='in', length=5, width=1.2, labelsize=13, colors='black')
    ax.grid(True, color='#c8c8c8', lw=1.0, zorder=0)
    ax.set_axisbelow(True)
    for s in ax.spines.values():
        s.set_linewidth(1.5)
    ax.set_xlabel('Age (years AD)', fontsize=13, labelpad=4)
    if i in (0, 3):
        ax.set_ylabel('VADM (10$^{22}$ Am$^2$)', fontsize=13, labelpad=6)
    ax.text(0.043, 0.925, panel_letters[i], transform=ax.transAxes, fontsize=16,
            fontweight='bold', ha='center', va='center')
    ax.text(0.103, 0.925, panel_regions[i], transform=ax.transAxes, fontsize=11.5,
            ha='left', va='center')

ax = axes[0]
ax.text(0.103, 0.816, 'HFM.0L1.A1, VADM', transform=ax.transAxes, fontsize=11.5,
        color='#0000ff', va='center')
ax.text(0.103, 0.718, 'CALS10k.2, VADM', transform=ax.transAxes, fontsize=11.5,
        color='#ff0000', va='center')
ax.text(0.637, 0.816, 'HFM.0L1.A1, ADM', transform=ax.transAxes, fontsize=11.5,
        color='#66bbf5', va='center')
ax.text(0.637, 0.718, 'CALS10k.2, ADM', transform=ax.transAxes, fontsize=11.5,
        color='#f79292', va='center')

ax = axes[3]
ax.text(-1200, 21.4, 'Diminished peak at ~500 BC', color='#ff00ff', fontsize=11,
        ha='center', va='center')
ax.annotate('', xy=(-630, 18.0), xytext=(-790, 19.9),
            arrowprops=dict(arrowstyle='->', color='#ff00ff', lw=0.8))

ax = axes[4]
ax.text(-2650, 18.6, 'Spike at ~980 BC', color='#ff00ff', fontsize=11,
        ha='center', va='center')
ax.annotate('', xy=(-1110, 23.9), xytext=(-1820, 19.7),
            arrowprops=dict(arrowstyle='->', color='#ff00ff', lw=0.8))

plt.savefig('out.png', dpi=100)
